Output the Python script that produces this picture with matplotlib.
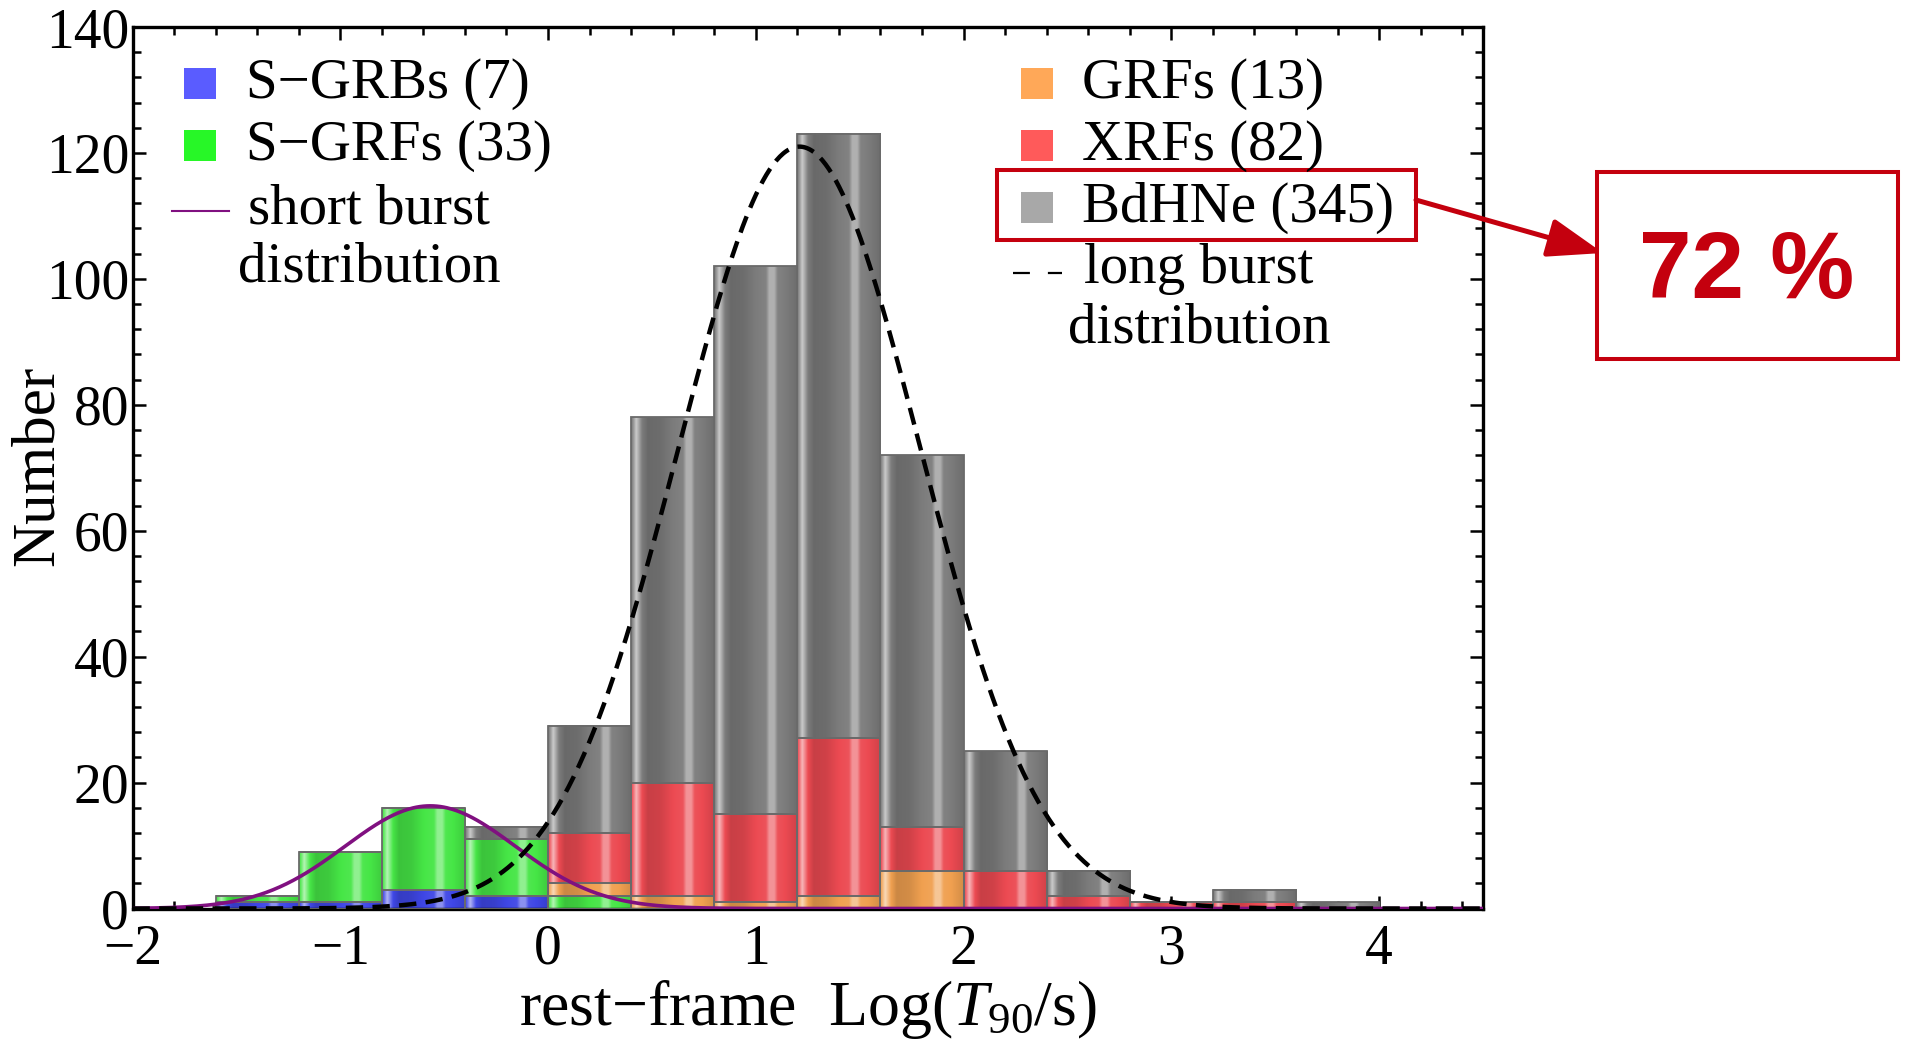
import numpy as np
import matplotlib
matplotlib.use("Agg")
import matplotlib.pyplot as plt
from matplotlib.patches import Rectangle, FancyArrowPatch
from matplotlib.lines import Line2D
from matplotlib.ticker import MultipleLocator
from matplotlib.colors import to_rgb

plt.rcParams["font.family"] = ["Liberation Serif", "DejaVu Serif"]
plt.rcParams["mathtext.fontset"] = "custom"
plt.rcParams["mathtext.rm"] = "Liberation Serif"
plt.rcParams["mathtext.it"] = "Liberation Serif:italic"

# ---- histogram data: rest-frame log10(T90/s), bin width 0.4 ----
bin_left = [-1.6, -1.2, -0.8, -0.4, 0.0, 0.4, 0.8, 1.2, 1.6, 2.0, 2.4, 2.8, 3.2, 3.6]
bin_width = 0.4
s_grbs = [1, 1, 3, 2, 0, 0, 0, 0, 0, 0, 0, 0, 0, 0]
s_grfs = [1, 8, 13, 9, 2, 0, 0, 0, 0, 0, 0, 0, 0, 0]
grfs   = [0, 0, 0, 0, 2, 2, 1, 2, 6, 0, 0, 0, 0, 0]
xrfs   = [0, 0, 0, 0, 8, 18, 14, 25, 7, 6, 2, 1, 1, 0]
bdhne  = [0, 0, 0, 2, 17, 58, 87, 96, 59, 19, 4, 0, 2, 1]

class_labels = ["S\u2212GRBs (7)", "S\u2212GRFs (33)", "GRFs (13)", "XRFs (82)", "BdHNe (345)"]

# gaussian fits of the two populations: (centre, width, peak)
short_fit = (-0.567, 0.41, 16.3)
long_fit = (1.21, 0.58, 121.0)

share_text = "72 %"

# ---- styling ----
W, H = 1907, 1041
bar_colors = ["#3F47E6", "#46E646", "#F0A050", "#EC4A52", "#7C7C7C"]
key_colors = ["#5A5CFF", "#27F727", "#FFA858", "#FF5A5A", "#A8A8A8"]
edge_color = "#6A6A6A"
purple = "#801080"
red = "#C4000E"


def fx(x):
    return x / W


def fy(y):
    return 1 - y / H


fig = plt.figure(figsize=(W / 100, H / 100), dpi=100)
ax = fig.add_axes([fx(132.5), fy(908.5), (1483 - 132.5) / W, (908.5 - 27) / H])

# glossy column profile used to shade every bar segment
prof_x = [0, 0.03, 0.06, 0.09, 0.13, 0.2, 0.35, 0.5, 0.62, 0.66, 0.72, 0.76, 0.85, 1.0]
prof_v = [-0.05, 0.25, 0.6, 0.35, 0.0, -0.15, -0.12, 0.0, 0.05, 0.4, 0.4, 0.05, 0.0, -0.12]
tt = np.linspace(0, 1, 160)
prof = np.interp(tt, prof_x, prof_v)[:, None]


def gloss(color):
    c = np.array(to_rgb(color))[None, :]
    out = np.where(prof >= 0, c + (1 - c) * prof, c * (1 + prof))
    return np.clip(out, 0, 1)[None, :, :]


series = [s_grbs, s_grfs, grfs, xrfs, bdhne]
bottom = np.zeros(len(bin_left))
for vals, col in zip(series, bar_colors):
    vals = np.asarray(vals, dtype=float)
    bars = ax.bar(bin_left, vals, width=bin_width, bottom=bottom, align="edge",
                  facecolor="none", edgecolor=edge_color, linewidth=1.3, zorder=3)
    img = gloss(col)
    for p in bars.patches:
        if p.get_height() <= 0:
            continue
        x0, y0 = p.get_x(), p.get_y()
        ax.imshow(img, extent=(x0, x0 + p.get_width(), y0, y0 + p.get_height()),
                  aspect="auto", interpolation="bilinear", zorder=2)
    bottom += vals

# fitted distributions
xs = np.linspace(-2, 4.5, 800)
mu, sg, pk = short_fit
ax.plot(xs, pk * np.exp(-(xs - mu) ** 2 / (2 * sg ** 2)), color=purple, lw=2.6, zorder=4)
mu, sg, pk = long_fit
ax.plot(xs, pk * np.exp(-(xs - mu) ** 2 / (2 * sg ** 2)), color="black", lw=3.2,
        ls=(0, (3.9, 2.1)), zorder=5)

ax.set_xlim(-2, 4.5)
ax.set_ylim(0, 140)
ax.xaxis.set_major_locator(MultipleLocator(1))
ax.xaxis.set_minor_locator(MultipleLocator(0.2))
ax.yaxis.set_major_locator(MultipleLocator(20))
ax.yaxis.set_minor_locator(MultipleLocator(4))
ax.tick_params(which="both", direction="in", top=True, right=True, width=1.8)
ax.tick_params(which="major", length=9.5)
ax.tick_params(which="minor", length=5.8)
ax.tick_params(axis="x", which="major", labelsize=40, pad=11)
ax.tick_params(axis="y", which="major", labelsize=40, pad=2.5)
for s in ax.spines.values():
    s.set_linewidth(2.4)

fig.text(fx(808), fy(1025), "rest\u2212frame  Log($T_{90}$/s)", fontsize=46,
         ha="center", va="baseline")
fig.text(fx(38), fy(466), "Number", fontsize=44, rotation=90, ha="center", va="center")

# ---- keys ----
def key_square(x0, y0, color):
    fig.add_artist(Rectangle((fx(x0), fy(y0 + 31)), 32 / W, 31 / H, transform=fig.transFigure,
                             facecolor=color, edgecolor="none"))


lab_fs = 41
key_square(184, 68, key_colors[0])
fig.text(fx(246), fy(98), class_labels[0], fontsize=lab_fs, va="baseline")
key_square(184, 130, key_colors[1])
fig.text(fx(246), fy(160), class_labels[1], fontsize=lab_fs, va="baseline")
fig.add_artist(Line2D([fx(172), fx(229)], [fy(210.7), fy(210.7)], transform=fig.transFigure,
                      color=purple, lw=1.5))
fig.text(fx(369), fy(223), "short burst", fontsize=lab_fs, ha="center", va="baseline")
fig.text(fx(369), fy(282), "distribution", fontsize=lab_fs, ha="center", va="baseline")

key_square(1021, 68, key_colors[2])
fig.text(fx(1082), fy(98), class_labels[2], fontsize=lab_fs, va="baseline")
key_square(1021, 130, key_colors[3])
fig.text(fx(1082), fy(160), class_labels[3], fontsize=lab_fs, va="baseline")
key_square(1021, 192, key_colors[4])
fig.text(fx(1082), fy(221.7), class_labels[4], fontsize=lab_fs, va="baseline")
fig.add_artist(Line2D([fx(1013), fx(1062)], [fy(273), fy(273)], transform=fig.transFigure,
                      color="black", lw=1.6, dashes=(7.6, 8.1)))
fig.text(fx(1199), fy(283), "long burst", fontsize=lab_fs, ha="center", va="baseline")
fig.text(fx(1199), fy(343), "distribution", fontsize=lab_fs, ha="center", va="baseline")

# ---- highlight box, arrow and share ----
fig.add_artist(Rectangle((fx(997), fy(240)), (1416 - 997) / W, 70 / H, transform=fig.transFigure,
                         fill=False, edgecolor=red, lw=2.9))
fig.add_artist(Rectangle((fx(1597), fy(359)), (1898 - 1597) / W, (359 - 172) / H,
                         transform=fig.transFigure, fill=False, edgecolor=red, lw=2.9))
fig.add_artist(FancyArrowPatch((fx(1416), fy(200)), (fx(1603), fy(253)), transform=fig.transFigure,
                               arrowstyle="-|>,head_length=34,head_width=12", mutation_scale=1,
                               lw=3.6, color=red, shrinkA=0, shrinkB=0))
fig.text(fx(1747), fy(298), share_text, fontsize=68, fontweight="bold", color=red,
         family=["Liberation Sans", "DejaVu Sans"], ha="center", va="baseline")

fig.savefig("out.png", dpi=100)
